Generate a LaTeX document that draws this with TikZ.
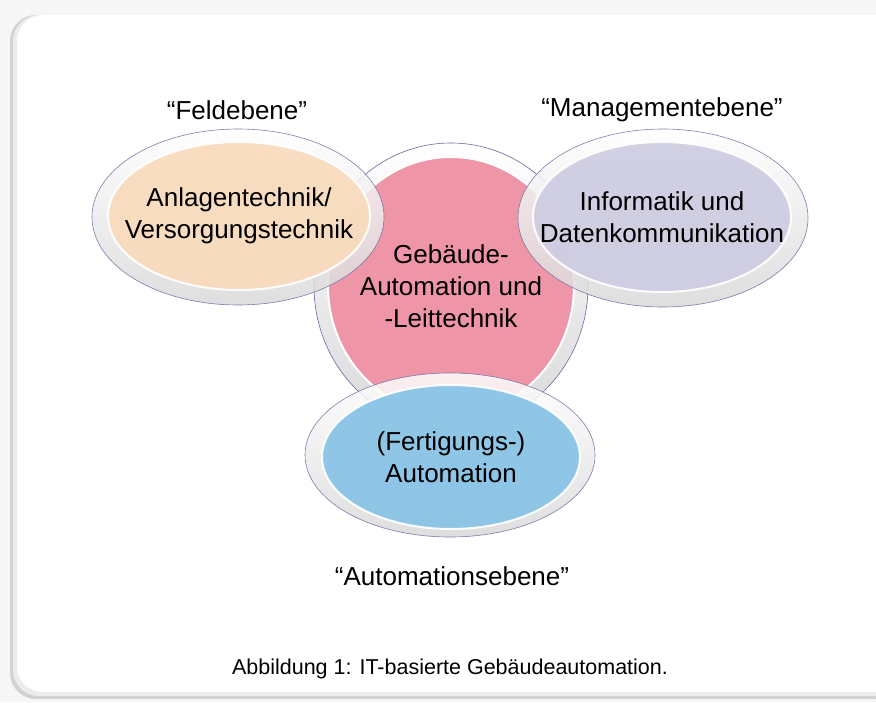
\documentclass[tikz,border=0pt]{standalone}
\usepackage{fontspec}
\setmainfont{Liberation Sans}
\usetikzlibrary{shapes.geometric, positioning}
\definecolor{feldorange}{RGB}{248,219,188}
\definecolor{leitpink}{RGB}{238,150,167}
\definecolor{mgmtlila}{RGB}{206,204,225}
\definecolor{autoblue}{RGB}{136,195,230}
\definecolor{rimline}{RGB}{105,105,160}
\definecolor{pagegray}{RGB}{246,246,246}

\begin{document}
\begin{tikzpicture}[x=1pt, y=-1pt,
  rim/.style={ellipse, draw=rimline, line width=0.6pt, top color=white, bottom color=gray!30, inner sep=0pt},
  disc/.style={ellipse, draw=white, line width=2pt, inner sep=0pt},
  glass/.style={opacity=0.85},
  solidglass/.style={opacity=0.93},
  txt/.style={align=center, font=\fontsize{26}{32}\selectfont},
  lvl/.style={font=\fontsize{26}{32}\selectfont},
  capt/.style={font=\fontsize{21.5}{25}\selectfont}
]
  \useasboundingbox (0,0) rectangle (876,702);
  \fill[pagegray] (0,0) rectangle (876,702);

  % panel with shadow
  \fill[gray!35, rounded corners=26pt] (10,15) rectangle (900,699);
  \fill[gray!15, rounded corners=26pt] (13,15) rectangle (900,696);
  \fill[white, rounded corners=26pt] (17,15) rectangle (900,692);

  % centre
  \node[rim, minimum width=274pt, minimum height=286pt] (leitrim) at (451,286) {};
  \node[disc, fill=leitpink, minimum width=246pt, minimum height=258pt] (leit) at (451,286) {};
  \node[txt] (leittxt) at (leit) {Gebäude-\\Automation und\\-Leittechnik};

  % left
  \node[rim, glass, minimum width=292pt, minimum height=176pt] (feldrim) at (238,217) {};
  \node[disc, solidglass, fill=feldorange, minimum width=262pt, minimum height=148pt] (feld) at (239,216) {};
  \node[txt] (feldtxt) at (feld) {Anlagentechnik/\\Versorgungstechnik};

  % right
  \node[rim, glass, minimum width=290pt, minimum height=178pt] (mgmtrim) at (663,218) {};
  \node[disc, solidglass, fill=mgmtlila, minimum width=258pt, minimum height=150pt] (mgmt) at (662,217) {};
  \node[txt] (mgmttxt) at (mgmt) {Informatik und\\Datenkommunikation};

  % bottom
  \node[rim, glass, minimum width=290pt, minimum height=164pt] (autorim) at (450,455) {};
  \node[disc, solidglass, fill=autoblue, minimum width=258pt, minimum height=144pt] (auto) at (451,457) {};
  \node[txt] (autotxt) at (auto) {(Fertigungs-)\\Automation};

  % levels
  \node[lvl] (feldlbl) at (237,110) {“Feldebene”};
  \node[lvl] (mgmtlbl) at (662,110) {“Managementebene”};
  \node[lvl] (autolbl) at (452,576) {“Automationsebene”};

  \node[capt] (caption) at (450,669) {Abbildung 1: IT-basierte Gebäudeautomation.};
\end{tikzpicture}
\end{document}
